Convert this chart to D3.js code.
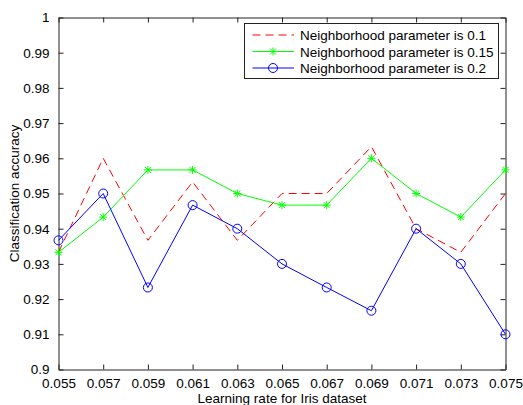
<!DOCTYPE html>
<html>
<head>
<meta charset="utf-8">
<script src="https://cdn.jsdelivr.net/npm/d3@7"></script>
<style>
body { margin: 0; background: #fff; }
text { font-family: "Liberation Sans", Arial, sans-serif; }
</style>
</head>
<body>
<script>
// learning rate values (x)
var rates = [0.055, 0.057, 0.059, 0.061, 0.063, 0.065, 0.067, 0.069, 0.071, 0.073, 0.075];
// accuracy per neighborhood parameter
var acc01  = [0.9333, 0.96, 0.9367, 0.9533, 0.9367, 0.95, 0.95, 0.9633, 0.94, 0.9333, 0.95];
var acc015 = [0.9333, 0.9433, 0.9567, 0.9567, 0.95, 0.9467, 0.9467, 0.96, 0.95, 0.9433, 0.9567];
var acc02  = [0.9367, 0.95, 0.9233, 0.9467, 0.94, 0.93, 0.9233, 0.9167, 0.94, 0.93, 0.91];
var yTicks = [0.9, 0.91, 0.92, 0.93, 0.94, 0.95, 0.96, 0.97, 0.98, 0.99, 1];
var names = ["Neighborhood parameter is 0.1", "Neighborhood parameter is 0.15", "Neighborhood parameter is 0.2"];

var w = 523, h = 405;
var pl = 58.5, pr = 505.5, pt = 17.5, pb = 369.5; // plot box edges

var svg = d3.select("body").append("svg")
  .attr("width", w)
  .attr("height", h);

var x = d3.scaleLinear().domain([0.055, 0.075]).range([pl, pr]);
var y = d3.scaleLinear().domain([0.9, 1]).range([pb, pt]);

// ticks on all four sides, pointing in
var tl = 5;
svg.append("g").attr("transform", "translate(0," + pb + ")")
  .call(d3.axisBottom(x).tickValues(rates).tickSizeOuter(0).tickSizeInner(-tl).tickPadding(9).tickFormat(d3.format(".3f")));
svg.append("g").attr("transform", "translate(0," + pt + ")")
  .call(d3.axisTop(x).tickValues(rates).tickSizeOuter(0).tickSizeInner(-tl).tickFormat(""));
svg.append("g").attr("transform", "translate(" + pl + ",0)")
  .call(d3.axisLeft(y).tickValues(yTicks).tickSizeOuter(0).tickSizeInner(-tl).tickPadding(9)
    .tickFormat(function(d) { return d === 1 || d === 0.9 ? String(d) : d3.format(".2f")(d); }));
svg.append("g").attr("transform", "translate(" + pr + ",0)")
  .call(d3.axisRight(y).tickValues(yTicks).tickSizeOuter(0).tickSizeInner(-tl).tickFormat(""));

svg.selectAll(".domain").attr("stroke", "#222").attr("stroke-width", 1);
svg.selectAll(".tick line").attr("stroke", "#222");
svg.selectAll(".tick text").attr("font-size", "13.5px").attr("fill", "#000")
  .attr("font-family", "Liberation Sans, Arial, sans-serif");

// axis labels
svg.append("text")
  .attr("x", (pl + pr) / 2)
  .attr("y", 403)
  .attr("text-anchor", "middle")
  .attr("font-size", "13.5px")
  .text("Learning rate for Iris dataset");
svg.append("text")
  .attr("transform", "translate(19," + (pt + pb) / 2 + ") rotate(-90)")
  .attr("text-anchor", "middle")
  .attr("font-size", "13.5px")
  .text("Classification accuracy");

var series = [
  { vals: acc01, color: "#ff0000", dash: "8,5", marker: "none" },
  { vals: acc015, color: "#00ff00", dash: null, marker: "star" },
  { vals: acc02, color: "#0000ff", dash: null, marker: "circle" }
];

var line = d3.line()
  .x(function(d, i) { return x(rates[i]); })
  .y(function(d) { return y(d); });

function drawMarker(g, type, cx, cy, color) {
  if (type === "circle") {
    g.append("circle").attr("cx", cx).attr("cy", cy).attr("r", 4.5)
      .attr("fill", "none").attr("stroke", color).attr("stroke-width", 1);
  } else if (type === "star") {
    var s = 4;
    var segs = [[-s, 0, s, 0], [0, -s, 0, s], [-s * 0.75, -s * 0.75, s * 0.75, s * 0.75], [-s * 0.75, s * 0.75, s * 0.75, -s * 0.75]];
    segs.forEach(function(q) {
      g.append("line").attr("x1", cx + q[0]).attr("y1", cy + q[1]).attr("x2", cx + q[2]).attr("y2", cy + q[3])
        .attr("stroke", color).attr("stroke-width", 1);
    });
  }
}

series.forEach(function(s) {
  var g = svg.append("g");
  g.append("path")
    .datum(s.vals)
    .attr("d", line)
    .attr("fill", "none")
    .attr("stroke", s.color)
    .attr("stroke-width", 1)
    .attr("stroke-dasharray", s.dash);
  s.vals.forEach(function(v, i) {
    drawMarker(g, s.marker, x(rates[i]), y(v), s.color);
  });
});

// legend
var lg = svg.append("g");
lg.append("rect")
  .attr("x", 244.5).attr("y", 23.5)
  .attr("width", 254).attr("height", 55)
  .attr("fill", "#fff").attr("stroke", "#222").attr("stroke-width", 1);
series.forEach(function(s, i) {
  var ly = 35 + i * 16.5;
  lg.append("line")
    .attr("x1", 252.5).attr("x2", 294)
    .attr("y1", ly).attr("y2", ly)
    .attr("stroke", s.color).attr("stroke-width", 1)
    .attr("stroke-dasharray", s.dash);
  drawMarker(lg, s.marker, 273, ly, s.color);
  lg.append("text")
    .attr("x", 300).attr("y", ly + 5)
    .attr("font-size", "13.5px")
    .text(names[i]);
});
</script>
</body>
</html>
